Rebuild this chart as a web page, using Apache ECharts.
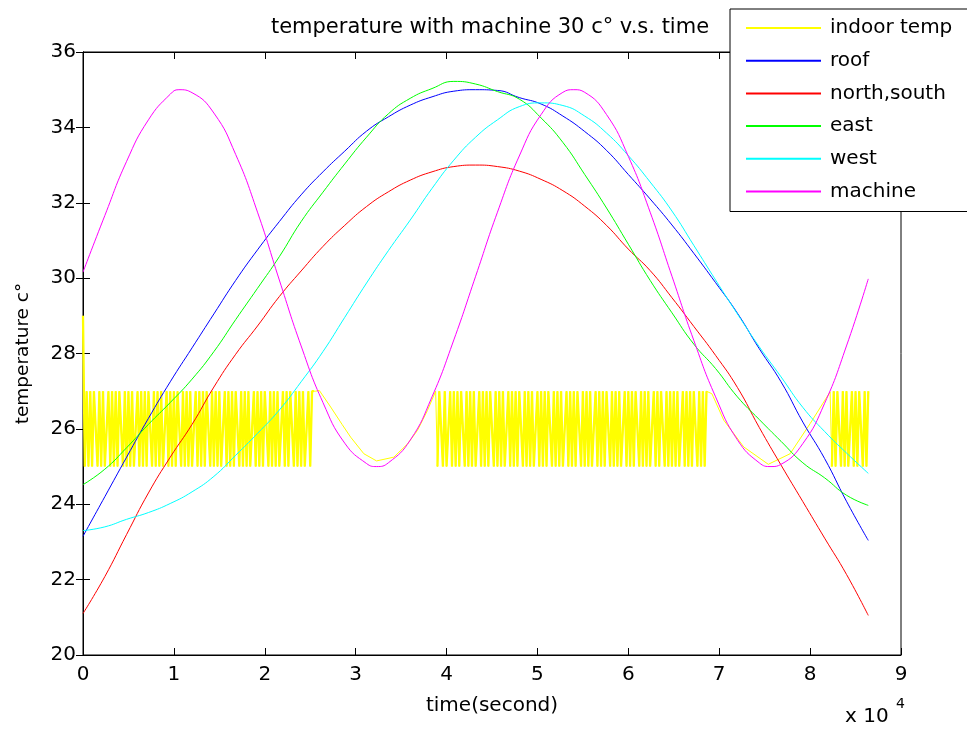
<!DOCTYPE html>
<html><head><meta charset="utf-8">
<script src="https://cdn.jsdelivr.net/npm/echarts@6/dist/echarts.min.js"></script>
<style>html,body{margin:0;padding:0;background:#fff}#c{width:967px;height:731px}</style>
</head><body><div id="c"></div>
<script>
// ---- data (time in seconds) ----
const timeGrid = [0,2400,4800,7200,9600,12000,14400,16800,19200,21600,24000,26400,28800,31200,33600,36000,38400,40800,43200,45600,48000,50400,52800,55200,57600,60000,62400,64800,67200,69600,72000,74400,76800,79200,81600,84000,86400];
const roof = [23.15,24.2,25.25,26.28,27.25,28.15,29.05,29.94,30.75,31.5,32.21,32.82,33.37,33.9,34.28,34.59,34.81,34.96,35.0,34.98,34.79,34.62,34.3,33.89,33.39,32.75,32.1,31.41,30.66,29.88,29.07,28.13,27.25,26.18,25.21,24.08,23.04];
const northSouth = [21.1,22.08,23.2,24.3,25.25,26.12,27.11,27.98,28.73,29.51,30.19,30.84,31.4,31.9,32.29,32.6,32.82,32.96,33.0,32.96,32.84,32.62,32.32,31.91,31.4,30.77,30.2,29.48,28.72,27.95,27.1,26.04,25.04,24.07,23.1,22.14,21.05];
const east = [24.52,24.93,25.5,26.12,26.7,27.32,28.05,28.9,29.73,30.57,31.5,32.28,33.03,33.74,34.36,34.77,35.03,35.22,35.15,34.95,34.75,34.25,33.6,32.75,31.86,30.9,29.94,29.08,28.25,27.6,26.85,26.25,25.67,25.1,24.7,24.24,23.97];
const west = [23.3,23.4,23.6,23.78,24.02,24.33,24.74,25.3,25.88,26.5,27.25,28.05,28.96,29.87,30.73,31.54,32.38,33.13,33.74,34.2,34.55,34.65,34.58,34.3,33.85,33.25,32.55,31.78,30.87,29.95,29.05,28.18,27.38,26.57,25.93,25.36,24.82];
const machineTimes = [0,2400,4800,7200,9600,10550,12000,14400,16800,19200,21600,24000,26400,28800,31200,32300,33600,36000,38400,40800,43200,45600,48000,50400,52800,54000,55200,57600,60000,62400,64800,67200,69600,72000,74400,75700,76800,79200,81600,84000,86400];
const machine = [30.16,31.66,33.1,34.2,34.88,35.0,34.92,34.38,33.28,31.75,29.95,28.2,26.7,25.62,25.08,25.0,25.1,25.7,26.85,28.36,30.05,31.75,33.24,34.34,34.93,35.0,34.93,34.34,33.23,31.75,30.05,28.35,26.85,25.71,25.1,25.0,25.06,25.61,26.68,28.2,29.98];

// indoor temperature: thermostat switching bands + free-running stretches
const indoorFirst = [0, 29.0];
const bandStep = 200;
const band1Start = 200;
const band1Values = [25,27,25,27,25,27,27,25,27,25, 27,25,25,27,25,27,25,27,25,27, 27,25,27,25,27,25,27,25,25,27, 25,27,25,27,25,27,27,25,27,25, 27,25,27,25,25,27,25,27,25,27, 25,27,27,25,27,25,27,25,27,25, 25,27,25,27,25,27,25,27,27,25, 27,25,27,25,27,25,25,27,25,27, 25,27,25,27,27,25,27,25,27,25, 27,25,25,27,25,27,25,27,25,27, 27,25,27,25,27,25,27,25,25,27, 25,27,25,27,27,25,27,25,27,25, 27,25,25,27,25,27,27];
const trans1Times = [25600,26000,27250,28500,29450,30900,32300,34200,35700,36800,37900,38800];
const trans1Values = [27.0,27.02,26.58,26.12,25.78,25.34,25.15,25.25,25.6,25.96,26.49,27.0];
const band2Start = 39000;
const band2Values = [25,27,27,25,27,25,25,27,25,27, 25,27,25,27,27,25,27,25,27,25, 27,25,25,27,25,27,25,27,25,27, 27,25,27,25,27,25,27,25,25,27, 25,27,25,27,25,27,27,25,27,25, 27,25,27,25,25,27,25,27,25,27, 25,27,27,25,27,25,27,25,27,25, 25,27,25,27,25,27,25,27,27,25, 27,25,27,25,27,25,25,27,25,27, 25,27,25,27,27,25,27,25,27,25, 27,25,25,27,25,27,25,27,25,27, 27,25,27,25,27,25,27,25,25,27, 25,27,25,27,27,25,27,25,27,25, 27,25,27,25,25,27,25,27,25,27, 25,27,27,25,27,25,27,25,27];
const trans2Times = [68800,69200,70500,72700,75400,77800,80000,82200];
const trans2Values = [27.0,26.93,26.23,25.52,25.06,25.34,26.14,26.98];
const band3Start = 82400;
const band3Values = [25,27,25,27,27,25,27,25,27,25,25,27,25,27,25,27,27,25,27,25,27];

const seriesNames = ['indoor temp','roof','north,south','east','west','machine'];
const seriesColors = ['#FFFF00','#0000FF','#FF0000','#00FF00','#00FFFF','#FF00FF'];
const xTickLabels = ['0','1','2','3','4','5','6','7','8','9'];

// ---- build ----
const bandPts = (start, vals) => vals.map((v,i)=>[start+i*bandStep, v]);
const b1 = bandPts(band1Start, band1Values), b2 = bandPts(band2Start, band2Values), b3 = bandPts(band3Start, band3Values);
const t1 = trans1Times.map((t,i)=>[t, trans1Values[i]]);
const t2 = trans2Times.map((t,i)=>[t, trans2Values[i]]);
const indoorData = [indoorFirst].concat(b1, t1, b2, t2, b3);
// thicker strokes for the switching bands only (gaps between bands broken with '-')
const bandOnly = [indoorFirst].concat(b1, [[b1[b1.length-1][0]+1,'-']], b2, [[b2[b2.length-1][0]+1,'-']], b3);

const pair = (ts, arr) => ts.map((t,i)=>[t, arr[i]]);
const curveData = [indoorData, pair(timeGrid, roof), pair(timeGrid, northSouth), pair(timeGrid, east), pair(timeGrid, west), pair(machineTimes, machine)];

const FONT = 'DejaVu Sans';
const chart = echarts.init(document.getElementById('c'), null, {renderer:'canvas'});
const xCommon = {type:'value', min:0, max:90000, interval:10000};
const yCommon = {type:'value', min:20, max:36, interval:2};
const series = seriesNames.map((n,i)=>({
  name:n, type:'line', data:curveData[i], symbol:'none', showSymbol:false,
  smooth: i===0 ? false : 0.5,
  color: seriesColors[i],
  lineStyle:{color:seriesColors[i], width:1},
  z: 2+i
}));
series.splice(1, 0, {name:'indoor temp', type:'line', data:bandOnly, symbol:'none', showSymbol:false,
  connectNulls:false, color:seriesColors[0], lineStyle:{color:seriesColors[0], width:2.3}, z:2});

chart.setOption({
  animation:false,
  backgroundColor:'#fff',
  title:{text:'temperature with machine 30 c\u00B0 v.s. time', left:490, top:17, textAlign:'center', padding:0,
    textStyle:{fontFamily:FONT, fontSize:21, fontWeight:'normal', color:'#000'}},
  legend:{orient:'vertical', left:730, top:9, padding:[9,22,10,15], itemWidth:75, itemHeight:20, itemGap:12.7,
    backgroundColor:'#fff', borderColor:'#000', borderWidth:1, data:seriesNames,
    itemStyle:{opacity:0, color:'transparent', borderWidth:0},
    textStyle:{fontFamily:FONT, fontSize:20, color:'#000', lineHeight:20, padding:[0,0,0,4]}},
  grid:{left:83, right:66, top:52, bottom:76, show:true, borderColor:'#000', borderWidth:1, backgroundColor:'transparent'},
  xAxis:[
    Object.assign({}, xCommon, {position:'bottom', name:'time(second)', nameLocation:'middle', nameGap:41,
      nameTextStyle:{fontFamily:FONT, fontSize:20, color:'#000'},
      axisLine:{show:true, lineStyle:{color:'#000', width:1}},
      axisTick:{show:true, inside:true, length:7, lineStyle:{color:'#000'}},
      axisLabel:{fontFamily:FONT, fontSize:20, color:'#000', margin:10, formatter:v=>xTickLabels[Math.round(v/10000)]},
      splitLine:{show:false}}),
    Object.assign({}, xCommon, {position:'top',
      axisLine:{show:true, lineStyle:{color:'#000', width:1}},
      axisTick:{show:true, inside:true, length:7, lineStyle:{color:'#000'}},
      axisLabel:{show:false}, splitLine:{show:false}})
  ],
  yAxis:[
    Object.assign({}, yCommon, {position:'left', name:'temperature c\u00B0', nameLocation:'middle', nameGap:50,
      nameTextStyle:{fontFamily:FONT, fontSize:18.5, color:'#000'},
      axisLine:{show:true, lineStyle:{color:'#000', width:1}},
      axisTick:{show:true, inside:true, length:7, lineStyle:{color:'#000'}},
      axisLabel:{fontFamily:FONT, fontSize:20, color:'#000', margin:7},
      splitLine:{show:false}}),
    Object.assign({}, yCommon, {position:'right',
      axisLine:{show:true, lineStyle:{color:'#000', width:1}},
      axisTick:{show:true, inside:true, length:7, lineStyle:{color:'#000'}},
      axisLabel:{show:false}, splitLine:{show:false}})
  ],
  graphic:[
    {type:'text', left:845, top:707, style:{text:'x 10', font:'20px "DejaVu Sans"', fill:'#000'}},
    {type:'text', left:896, top:697, style:{text:'4', font:'14px "DejaVu Sans"', fill:'#000'}}
  ],
  series: series
});
</script></body></html>
